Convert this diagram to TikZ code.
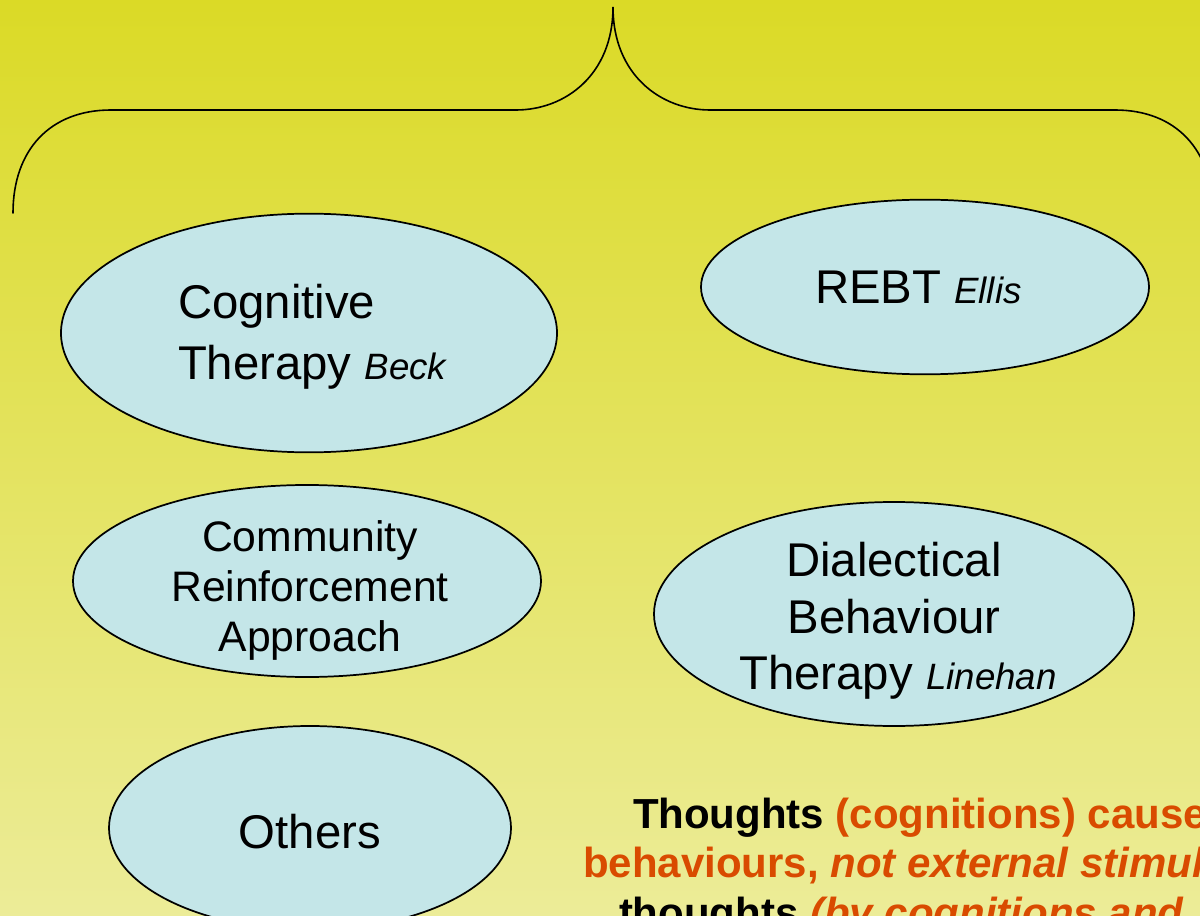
\documentclass[tikz,border=0pt]{standalone}
\usepackage{fontspec}
\setmainfont{Liberation Sans}
\usetikzlibrary{shapes.geometric}
\definecolor{bgtop}{RGB}{219,218,38}
\definecolor{bgbot}{RGB}{236,236,152}
\definecolor{ellfill}{RGB}{196,230,232}
\definecolor{orng}{RGB}{217,75,0}
\newcommand{\bigtxt}{\fontsize{35.5}{40}\selectfont}
\newcommand{\midtxt}{\fontsize{32}{37}\selectfont}
\newcommand{\itxt}{\fontsize{27.5}{30}\selectfont\itshape}
\newcommand{\bottxt}{\fontsize{31.5}{36}\selectfont\bfseries}
\tikzset{
  oval/.style={ellipse, draw=black, line width=1.3pt, fill=ellfill, inner sep=0pt},
  lbl/.style={inner sep=0pt, outer sep=0pt, text=black},
  brace/.style={draw=black, line width=1.2pt, line cap=round}
}
\begin{document}
\begin{tikzpicture}[x=0.75pt, y=-0.75pt]
\useasboundingbox (0,0) rectangle (1200,916);
\clip (0,0) rectangle (1200,916);
\shade[top color=bgtop, bottom color=bgbot] (0,0) rectangle (1200,916);

% brace
\coordinate (bl) at (13,213);
\coordinate (bt) at (613,7);
\coordinate (br) at (1213,213);
\draw[brace] (bl) .. controls (13,150) and (50,110) .. (111,110) -- (516,110)
  .. controls (565,110) and (613,75) .. (bt)
  .. controls (613,75) and (661,110) .. (710,110) -- (1115,110)
  .. controls (1176,110) and (1213,150) .. (br);

% ellipses
\node[oval, minimum width=372pt, minimum height=179pt] (cog) at (309,333) {};
\node[oval, minimum width=336pt, minimum height=131pt] (rebt) at (925,287) {};
\node[oval, minimum width=351pt, minimum height=144pt] (cra) at (307,581) {};
\node[oval, minimum width=360pt, minimum height=168pt] (dbt) at (894,614) {};
\node[oval, minimum width=301.5pt, minimum height=153pt] (oth) at (310,828) {};

% texts
\node[lbl, anchor=base west] (cog1) at (178,319) {\bigtxt Cognitive};
\node[lbl, anchor=base west] (cog2) at (178,380) {\bigtxt Therapy {\itxt Beck}};
\node[lbl, anchor=base west] (rebt1) at (815,304) {\bigtxt REBT {\itxt Ellis}};
\node[lbl, anchor=base] (cra1) at (310,551) {\midtxt Community};
\node[lbl, anchor=base] (cra2) at (310,601) {\midtxt Reinforcement};
\node[lbl, anchor=base] (cra3) at (310,651) {\midtxt Approach};
\node[lbl, anchor=base] (dbt1) at (894,576) {\bigtxt Dialectical};
\node[lbl, anchor=base] (dbt2) at (894,633) {\bigtxt Behaviour};
\node[lbl, anchor=base] (dbt3) at (898,689) {\bigtxt Therapy {\itxt Linehan}};
\node[lbl, anchor=base] (oth1) at (310,848) {\bigtxt Others};

% bottom statement (clipped by the frame)
\node[lbl, anchor=base west] (st1) at (633,828) {\bottxt Thoughts \textcolor{orng}{(cognitions) cause}};
\node[lbl, anchor=base west] (st2) at (583,877) {\bottxt \textcolor{orng}{behaviours, \textit{not external stimuli}}};
\node[lbl, anchor=base west] (st3) at (619,927) {\bottxt thoughts \textcolor{orng}{\textit{(by cognitions and}}};
\end{tikzpicture}
\end{document}
